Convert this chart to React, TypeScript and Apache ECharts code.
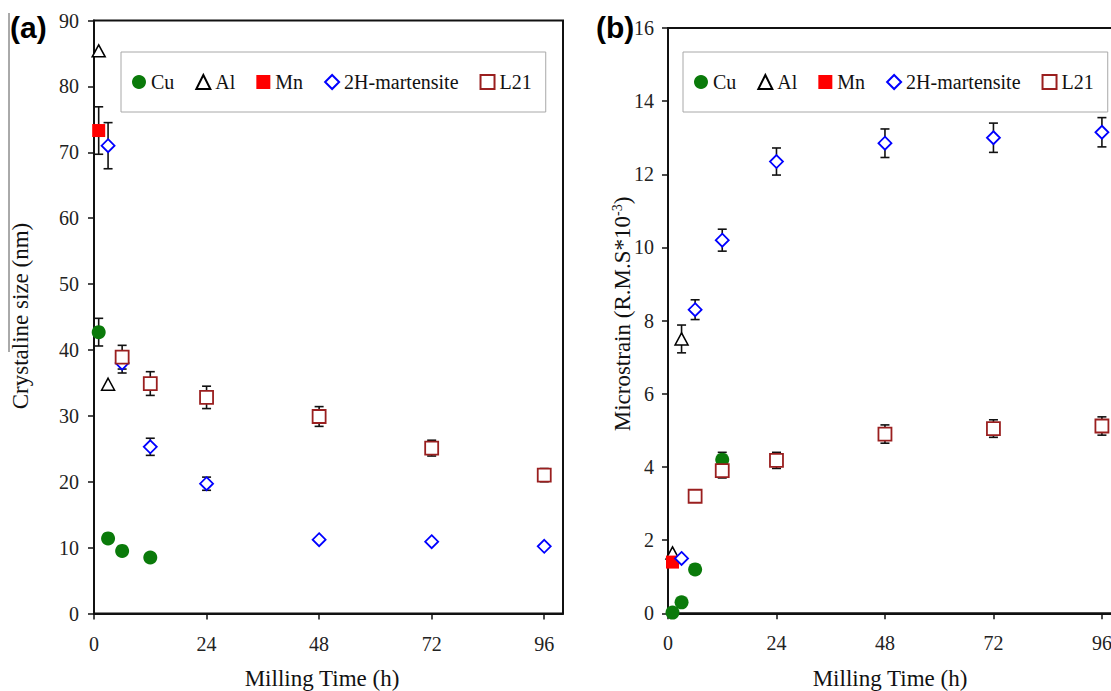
import React, { useEffect, useRef } from "react";
import * as echarts from "echarts";

// ---------- shared ----------
const seriesNames = ["Cu", "Al", "Mn", "2H-martensite", "L21"];
const timeTicks = [0, 24, 48, 72, 96];

// ---------- panel (a): crystalline size (nm) ----------
const cuTimeA = [1, 3, 6, 12];
const cuSizeA = [42.7, 11.4, 9.5, 8.5];
const cuErrA = [2.1, 0, 0, 0];

const alTimeA = [1, 3];
const alSizeA = [85.4, 34.8];
const alErrA = [0, 0];

const mnTimeA = [1];
const mnSizeA = [73.3];
const mnErrA = [3.6];

const hTimeA = [3, 6, 12, 24, 48, 72, 96];
const hSizeA = [71.0, 38.0, 25.3, 19.7, 11.2, 10.9, 10.2];
const hErrA = [3.5, 1.5, 1.3, 1.0, 0, 0, 0];

const lTimeA = [6, 12, 24, 48, 72, 96];
const lSizeA = [38.9, 34.9, 32.8, 29.9, 25.1, 21.0];
const lErrA = [1.8, 1.8, 1.7, 1.5, 1.2, 1.0];

// ---------- panel (b): microstrain ----------
const cuTimeB = [1, 3, 6, 12];
const cuStrainB = [0.02, 0.3, 1.2, 4.2];
const cuErrB = [0, 0, 0, 0.2];

const alTimeB = [1, 3];
const alStrainB = [1.65, 7.5];
const alErrB = [0, 0.38];

const mnTimeB = [1];
const mnStrainB = [1.4];
const mnErrB = [0];

const hTimeB = [3, 6, 12, 24, 48, 72, 96];
const hStrainB = [1.5, 8.3, 10.2, 12.35, 12.85, 13.0, 13.15];
const hErrB = [0, 0.27, 0.3, 0.37, 0.39, 0.4, 0.4];

const lTimeB = [6, 12, 24, 48, 72, 96];
const lStrainB = [3.2, 3.9, 4.18, 4.9, 5.05, 5.12];
const lErrB = [0.1, 0.2, 0.22, 0.25, 0.24, 0.25];

// ---------- helpers ----------
const pts = (t: number[], v: number[]) => t.map((x, i) => [x, v[i]]);
const errs = (t: number[], v: number[], e: number[]) =>
  t.map((x, i) => [x, v[i] - e[i], v[i] + e[i], e[i]]).filter((d) => d[3] > 0);

const SERIF = "'Liberation Serif', 'Times New Roman', serif";

const styles: Record<string, any> = {
  Cu: { symbol: "circle", symbolSize: 14, itemStyle: { color: "#0a7a0a", opacity: 1 } },
  Al: {
    symbol: "triangle",
    symbolSize: [13, 12],
    itemStyle: { color: "#ffffff", borderColor: "#000000", borderWidth: 1.5, opacity: 1 },
  },
  Mn: { symbol: "rect", symbolSize: 13, itemStyle: { color: "#ff0000", opacity: 1 } },
  "2H-martensite": {
    symbol: "diamond",
    symbolSize: [13, 13],
    itemStyle: { color: "#ffffff", borderColor: "#0000ff", borderWidth: 1.8, opacity: 1 },
  },
  L21: {
    symbol: "rect",
    symbolSize: 13,
    itemStyle: { color: "#ffffff", borderColor: "#9a1f1f", borderWidth: 1.8, opacity: 1 },
  },
};

const errorRender = (params: any, api: any) => {
  const x = api.value(0);
  const lo = api.value(1);
  const hi = api.value(2);
  const p1 = api.coord([x, lo]);
  const p2 = api.coord([x, hi]);
  const w = 4.5;
  const style = { stroke: "#111111", lineWidth: 1.6 };
  return {
    type: "group",
    children: [
      { type: "line", shape: { x1: p1[0], y1: p1[1], x2: p2[0], y2: p2[1] }, style },
      { type: "line", shape: { x1: p1[0] - w, y1: p1[1], x2: p1[0] + w, y2: p1[1] }, style },
      { type: "line", shape: { x1: p2[0] - w, y1: p2[1], x2: p2[0] + w, y2: p2[1] }, style },
    ],
  };
};

function buildPanel(
  idx: number,
  sets: { name: string; t: number[]; v: number[]; e: number[] }[]
) {
  const out: any[] = [];
  const allErr: number[][] = [];
  sets.forEach((s) => errs(s.t, s.v, s.e).forEach((d) => allErr.push(d)));
  out.push({
    type: "custom",
    name: "err" + idx,
    xAxisIndex: idx,
    yAxisIndex: idx,
    renderItem: errorRender,
    data: allErr,
    encode: { x: 0, y: [1, 2] },
    z: 1,
    silent: true,
  });
  sets.forEach((s) => {
    out.push({
      type: "scatter",
      name: s.name,
      xAxisIndex: idx,
      yAxisIndex: idx,
      data: pts(s.t, s.v),
      z: 3,
      ...styles[s.name],
    });
  });
  return out;
}

const axisCommon = {
  axisLine: { show: true, onZero: false, lineStyle: { color: "#111", width: 2 } },
  axisTick: { show: true, inside: false, length: 6, lineStyle: { color: "#111", width: 1.5 } },
  splitLine: { show: false },
};

const legendCommon = {
  data: seriesNames,
  orient: "horizontal",
  backgroundColor: "#ffffff",
  borderColor: "#a8a8a8",
  borderWidth: 1,
  padding: [20, 14, 20, 11],
  itemGap: 21,
  itemWidth: 14,
  itemHeight: 14,
  textStyle: { fontFamily: SERIF, fontSize: 20, color: "#111" },
  selectedMode: false,
};

export default function App() {
  const ref = useRef<HTMLDivElement>(null);
  useEffect(() => {
    if (!ref.current) return;
    const chart = echarts.init(ref.current, undefined, { renderer: "svg" });
    const seriesA = buildPanel(0, [
      { name: "Cu", t: cuTimeA, v: cuSizeA, e: cuErrA },
      { name: "Al", t: alTimeA, v: alSizeA, e: alErrA },
      { name: "Mn", t: mnTimeA, v: mnSizeA, e: mnErrA },
      { name: "2H-martensite", t: hTimeA, v: hSizeA, e: hErrA },
      { name: "L21", t: lTimeA, v: lSizeA, e: lErrA },
    ]);
    const seriesB = buildPanel(1, [
      { name: "Cu", t: cuTimeB, v: cuStrainB, e: cuErrB },
      { name: "Al", t: alTimeB, v: alStrainB, e: alErrB },
      { name: "Mn", t: mnTimeB, v: mnStrainB, e: mnErrB },
      { name: "2H-martensite", t: hTimeB, v: hStrainB, e: hErrB },
      { name: "L21", t: lTimeB, v: lStrainB, e: lErrB },
    ]);
    const option: any = {
      animation: false,
      backgroundColor: "#ffffff",
      textStyle: { fontFamily: SERIF },
      grid: [
        { left: 94, top: 20.5, width: 469, height: 593, outerBoundsMode: "none", containLabel: false, show: true, borderColor: "#111", borderWidth: 2, backgroundColor: "transparent" },
        { left: 668, top: 28, width: 452, height: 585.3, outerBoundsMode: "none", containLabel: false, show: true, borderColor: "#111", borderWidth: 2, backgroundColor: "transparent" },
      ],
      xAxis: [0, 1].map((i) => ({
        type: "value",
        gridIndex: i,
        min: 0,
        max: 100,
        interval: 24,
        ...axisCommon,
        axisTick: { ...axisCommon.axisTick, customValues: timeTicks },
        axisLabel: {
          customValues: timeTicks,
          margin: 20,
          fontFamily: SERIF,
          fontSize: 20,
          color: "#222",
        },
      })),
      yAxis: [
        {
          type: "value",
          gridIndex: 0,
          min: 0,
          max: 90,
          interval: 10,
          ...axisCommon,
          axisLabel: { margin: 15, fontFamily: SERIF, fontSize: 20, color: "#222" },
        },
        {
          type: "value",
          gridIndex: 1,
          min: 0,
          max: 16,
          interval: 2,
          ...axisCommon,
          axisLabel: { margin: 14, fontFamily: SERIF, fontSize: 20, color: "#222" },
        },
      ],
      legend: [
        { ...legendCommon, left: 121, top: 52 },
        { ...legendCommon, left: 683, top: 52 },
      ],
      graphic: [
        {
          type: "line",
          shape: { x1: 9, y1: 13, x2: 9, y2: 352 },
          style: { stroke: "#555", lineWidth: 1 },
        },
        {
          type: "text",
          left: 10,
          top: 12,
          style: { text: "(a)", fontFamily: "'Liberation Sans', Arial, sans-serif", fontWeight: "bold", fontSize: 30, fill: "#000" },
        },
        {
          type: "text",
          left: 596,
          top: 12,
          style: { text: "(b)", fontFamily: "'Liberation Sans', Arial, sans-serif", fontWeight: "bold", fontSize: 30, fill: "#000" },
        },
        {
          type: "text",
          x: 20,
          y: 316,
          rotation: Math.PI / 2,
          style: {
            text: "Crystaline size (nm)",
            fontFamily: SERIF,
            fontSize: 23,
            fill: "#111",
            align: "center",
            verticalAlign: "middle",
          },
        },
        {
          type: "text",
          x: 622,
          y: 314,
          rotation: Math.PI / 2,
          style: {
            text: "Microstrain (R.M.S*10{sup|-3})",
            fontFamily: SERIF,
            fontSize: 23,
            fill: "#111",
            align: "center",
            verticalAlign: "middle",
            rich: {
              sup: { fontFamily: SERIF, fontSize: 14, fill: "#111", verticalAlign: "top", padding: [0, 0, 10, 0] },
            },
          },
        },
        {
          type: "text",
          x: 322,
          y: 678,
          style: { text: "Milling Time (h)", fontFamily: SERIF, fontSize: 23, fill: "#111", align: "center", verticalAlign: "middle" },
        },
        {
          type: "text",
          x: 890,
          y: 678,
          style: { text: "Milling Time (h)", fontFamily: SERIF, fontSize: 23, fill: "#111", align: "center", verticalAlign: "middle" },
        },
      ],
      series: [...seriesA, ...seriesB],
    };
    chart.setOption(option);
    return () => chart.dispose();
  }, []);
  return (
    <div
      ref={ref}
      style={{ position: "absolute", left: 0, top: 0, width: 1111, height: 691, background: "#fff" }}
    />
  );
}
